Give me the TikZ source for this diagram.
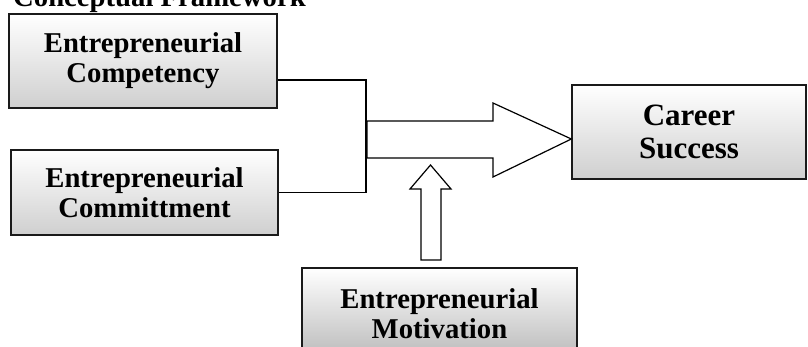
\documentclass[tikz,border=0pt]{standalone}
\usepackage{fontspec}
\setmainfont{Liberation Serif}
\usetikzlibrary{calc}
\definecolor{frameink}{HTML}{1A1A1A}
\definecolor{shadebot}{HTML}{CFCFCF}

\begin{document}
\begin{tikzpicture}[
  x=1pt, y=-1pt,
  font=\rmfamily\bfseries\fontsize{28.7}{30}\selectfont,
  varbox/.style={draw=frameink, line width=1.3pt, top color=white, bottom color=shadebot,
    align=center, inner sep=0pt, text=black},
  link/.style={draw=black, line width=1.2pt},
  blockarrow/.style={draw=black, line width=1.2pt, fill=white, line join=miter},
]
\useasboundingbox (0,0) rectangle (808,347);
\clip (0,0) rectangle (808,347);

% ===== heading (cut at the top edge) =====
\node[anchor=base west, inner sep=0pt] (head) at (13,7) {Conceptual Framework};

% ===== inputs =====
\node[varbox, minimum width=268pt, minimum height=94pt] (comp) at (143,61)
  {Entrepreneurial\\Competency};
\node[varbox, minimum width=267pt, minimum height=85pt] (commit) at (144.5,192.5)
  {Entrepreneurial\\Committment};

% ===== outcome =====
\node[varbox, minimum width=234pt, minimum height=94pt,
  font=\rmfamily\bfseries\fontsize{31}{33}\selectfont] (career) at (689,132)
  {Career\\Success};

% ===== moderator (runs off the bottom) =====
\node[varbox, minimum width=275pt, minimum height=92pt, bottom color=gray!55] (motiv) at (439.5,314)
  {Entrepreneurial\\Motivation};

% ===== joining lines =====
\coordinate (jtop) at (366,80);
\coordinate (jbot) at (366,192.5);
\draw[link] (comp.east |- jtop) -- (jtop) -- (jbot) -- (commit.east);

% ===== big arrow into the outcome =====
\coordinate (tip) at (career.west |- 0,139);
\draw[blockarrow] (367,121) -- (493,121) -- (493,103) -- (tip)
  -- (493,177) -- (493,158) -- (367,158) -- cycle;

% ===== small arrow up from the moderator =====
\draw[blockarrow] (421,260) -- (421,189) -- (410,189) -- (430.5,165)
  -- (451,189) -- (441,189) -- (441,260) -- cycle;

\end{tikzpicture}
\end{document}
